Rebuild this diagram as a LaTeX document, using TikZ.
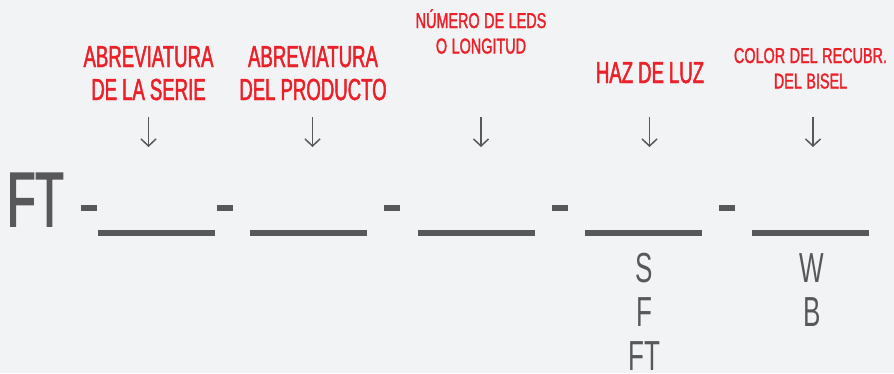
\documentclass[tikz,border=0pt]{standalone}
\usepackage{fontspec}
\setmainfont[FakeStretch=0.62]{Liberation Sans}
\newfontfamily\labfont[FakeStretch=0.61,FakeBold=1.5]{Liberation Sans}
\newfontfamily\smallfont[FakeStretch=0.67,FakeBold=1.5]{Liberation Sans}
\newfontfamily\ftfont[FakeStretch=0.6,FakeBold=2]{Liberation Sans}
\usetikzlibrary{arrows.meta}
\definecolor{bg}{HTML}{F2F3F5}
\definecolor{lab}{HTML}{EC2029}
\definecolor{ink}{HTML}{58585A}
\newcommand\ws{\hspace{5pt}}
\newcommand\wss{\hspace{4.5pt}}
\tikzset{
  biglab/.style={text=lab, font=\labfont\fontsize{30.5}{33}\selectfont, align=center, text width=220pt, anchor=base, inner sep=0pt},
  smalllab/.style={text=lab, font=\smallfont\fontsize{21.5}{25.5}\selectfont, align=center, text width=220pt, anchor=base, inner sep=0pt},
  opt/.style={text=ink, font=\fontsize{42}{44}\selectfont, align=center, text width=100pt, anchor=base, inner sep=0pt},
  blank/.style={fill=ink, draw=none},
  sep/.style={fill=ink, draw=none},
  pointer/.style={draw=ink, line width=1.5pt, -{Straight Barb[length=7pt,width=15pt,line width=1.5pt]}}
}
\begin{document}
\begin{tikzpicture}[x=1pt,y=-1pt]
\fill[bg] (0,0) rectangle (894,373);
\useasboundingbox (0,0) rectangle (894,373);
% labels
\node[biglab] (l1) at (148.5,67) {ABREVIATURA\\DE\ws LA\ws SERIE};
\node[biglab] (l2) at (313,67) {ABREVIATURA\\DEL\ws PRODUCTO};
\node[smalllab] (l3) at (481,28) {NÚMERO\wss DE\wss LEDS\\O\wss LONGITUD};
\node[biglab] (l4) at (650,83) {HAZ\ws DE\ws LUZ};
\node[smalllab] (l5) at (810.5,63) {COLOR\wss DEL\wss RECUBR.\\DEL\wss BISEL};
% arrows
\foreach \i/\x in {1/148.5,2/312.5,3/481,4/649.5,5/813}{
  \coordinate (t\i) at (\x,117);
  \coordinate (h\i) at (\x,147);
  \draw[pointer] (t\i) -- (h\i);
}
% prefix
\node[text=ink, font=\ftfont\fontsize{77}{77}\selectfont, anchor=base west, inner sep=0pt] (ft) at (7,226) {FT};
% separators and blanks
\foreach \i/\x in {1/81,2/217,3/384,4/552,5/719}{
  \path[sep] (\x,205) rectangle ++(16,5.5);
}
\foreach \i/\x in {1/98,2/250,3/418,4/585,5/752}{
  \path[blank] (\x,230) rectangle ++(117,6);
}
% options
\node[opt] (o4) at (644,282) {S\\F\\FT};
\node[opt] (o5) at (812,282) {W\\B};
\end{tikzpicture}
\end{document}
